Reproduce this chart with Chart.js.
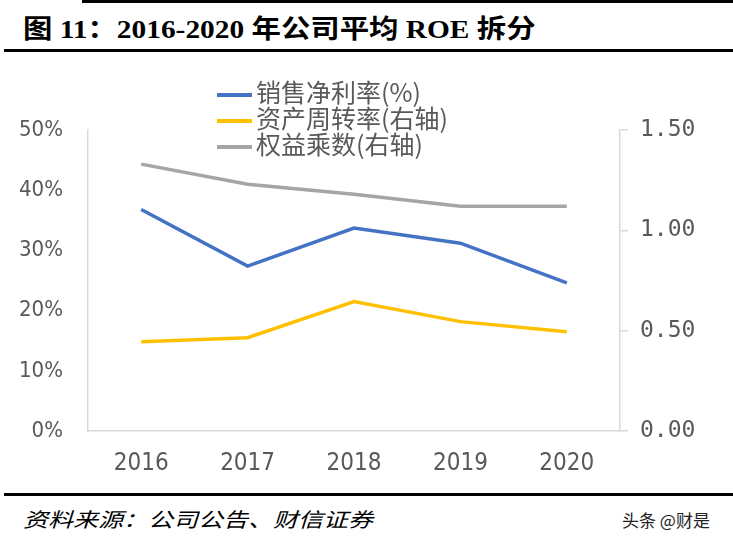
<!DOCTYPE html>
<html>
<head>
<meta charset="utf-8">
<script src="https://cdn.jsdelivr.net/npm/chart.js@4.4.0/dist/chart.umd.min.js"></script>
<style>
  body { margin: 0; background: #fff; width: 733px; height: 545px; position: relative; overflow: hidden; }
  .topline { position: absolute; left: 82px; top: 0; width: 651px; height: 3px; background: #000; }
  .title { position: absolute; left: 23px; top: 8px; font: bold 26px "Liberation Serif", "Noto Sans CJK SC", serif; color: #000; transform: scaleX(1.13); transform-origin: left center; white-space: nowrap; }
  .titleline { position: absolute; left: 4px; top: 49px; width: 729px; height: 3px; background: #000; }
  .footline { position: absolute; left: 4px; top: 493px; width: 729px; height: 3px; background: #000; }
  .source { position: absolute; left: 23px; top: 504px; font: italic 20px "Noto Sans CJK SC", serif; color: #000; transform: scaleX(1.25); transform-origin: left center; white-space: nowrap; }
  .mark { position: absolute; left: 622px; top: 507px; font: 17px "Noto Sans CJK SC", sans-serif; color: #222; white-space: nowrap; }
  #wrap { position: absolute; left: 0; top: 56px; width: 733px; height: 436px; }
  #legend { position: absolute; left: 217px; top: 78px; font: 25px "Noto Sans CJK SC", sans-serif; color: #595959; }
  #legend div { height: 26px; line-height: 26px; white-space: nowrap; }
  #legend span { display: inline-block; width: 35px; height: 4px; vertical-align: middle; margin-right: 4px; }
</style>
</head>
<body>
<div class="topline"></div>
<div class="title">图 11：2016-2020 年公司平均 ROE 拆分</div>
<div class="titleline"></div>
<div id="wrap"><canvas id="myChart"></canvas></div>
<div id="legend"></div>
<div class="footline"></div>
<div class="source">资料来源：公司公告、财信证券</div>
<div class="mark">头条 @财是</div>
<script>
const years = ['2016', '2017', '2018', '2019', '2020']
const netMargin = [36.8, 27.4, 33.7, 31.2, 24.6]      // 销售净利率 %
const assetTurnover = [0.445, 0.465, 0.645, 0.545, 0.495]   // 资产周转率 (右轴)
const equityMultiplier = [1.33, 1.23, 1.18, 1.12, 1.12]     // 权益乘数 (右轴)
const seriesNames = ['销售净利率(%)', '资产周转率(右轴)', '权益乘数(右轴)']
const seriesColors = ['#4472C4', '#FFC000', '#A5A5A5']

const tickFamily = '"Liberation Sans Narrow", "DejaVu Sans Condensed", sans-serif'

const data = {
    labels: years,
    datasets: [
        { label: seriesNames[0], data: netMargin, yAxisID: 'y' },
        { label: seriesNames[1], data: assetTurnover, yAxisID: 'y1' },
        { label: seriesNames[2], data: equityMultiplier, yAxisID: 'y1' }
    ].map((ds, i) => Object.assign(ds, {
        borderColor: seriesColors[i],
        backgroundColor: seriesColors[i],
        borderWidth: 3.5,
        pointRadius: 0,
        tension: 0,
        fill: false
    }))
}

// legend in html, stacked like the original
const legendBox = document.getElementById('legend')
seriesNames.forEach((name, i) => {
    const row = document.createElement('div')
    const swatch = document.createElement('span')
    swatch.style.background = seriesColors[i]
    row.appendChild(swatch)
    row.appendChild(document.createTextNode(name))
    legendBox.appendChild(row)
})

const ctx = document.getElementById('myChart').getContext('2d')

new Chart(ctx, {
    type: 'line',
    data: data,
    options: {
        responsive: true,
        maintainAspectRatio: false,
        animation: false,
        layout: { padding: { top: 74, left: 0, right: 0, bottom: 0 } },
        plugins: { legend: { display: false }, tooltip: { enabled: false } },
        scales: {
            x: {
                offset: true,
                grid: { drawOnChartArea: false, drawTicks: false, offset: true },
                border: { display: true, color: '#D9D9D9', width: 1.5 },
                ticks: { color: '#595959', font: { family: tickFamily, size: 24 }, padding: 18, maxRotation: 0 },
                afterFit: scale => { scale.height = 61 }
            },
            y: {
                position: 'left',
                min: 0, max: 50,
                grid: { drawOnChartArea: false, drawTicks: false },
                border: { display: true, color: '#D9D9D9', width: 1.5 },
                ticks: { stepSize: 10, color: '#595959', font: { family: tickFamily, size: 22 }, padding: 25, callback: v => v + '%' },
                afterFit: scale => { scale.width = 88 }
            },
            y1: {
                position: 'right',
                min: 0, max: 1.5,
                grid: { drawOnChartArea: false, drawTicks: true, tickLength: 8, color: '#D9D9D9', lineWidth: 1.5 },
                border: { display: true, color: '#D9D9D9', width: 1.5 },
                ticks: { stepSize: 0.5, color: '#595959', font: { family: '"DejaVu Sans Mono", monospace', size: 23 }, padding: 12, callback: v => v.toFixed(2) },
                afterFit: scale => { scale.width = 113 }
            }
        }
    }
})
</script>
</body>
</html>
